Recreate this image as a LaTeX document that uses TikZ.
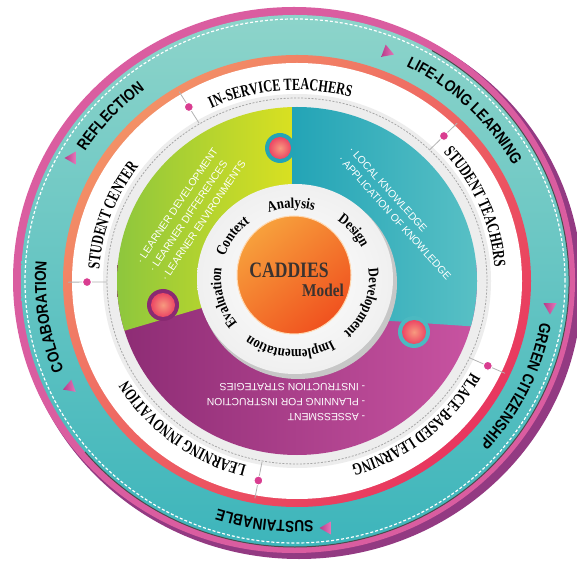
\documentclass[tikz,border=0pt]{standalone}
\usepackage{fontspec}
\usepackage{graphicx}
\setmainfont{Liberation Serif}
\newfontfamily\ringfont[FakeStretch=0.85]{Liberation Sans}
\newfontfamily\bandfont[FakeStretch=0.72]{Liberation Serif}
\newfontfamily\wordfont[FakeStretch=0.85]{Liberation Serif}
\newfontfamily\listfont{Liberation Sans}
\usetikzlibrary{decorations.text,shapes.geometric}

\definecolor{ringpink}{HTML}{DA5DA0}
\definecolor{ringplum}{HTML}{933A82}
\definecolor{tealhi}{HTML}{8DD4CA}
\definecolor{teallo}{HTML}{3DB5BB}
\definecolor{bandorange}{HTML}{F39066}
\definecolor{bandred}{HTML}{E8365F}
\definecolor{leafgreen}{HTML}{86C440}
\definecolor{leafyellow}{HTML}{D9E021}
\definecolor{seateal}{HTML}{23A4B6}
\definecolor{seateallight}{HTML}{5CC2C6}
\definecolor{plumdark}{HTML}{8A2A72}
\definecolor{plumlight}{HTML}{CB55A3}
\definecolor{ballred}{HTML}{EC4664}
\definecolor{ballpeach}{HTML}{F79A7E}
\definecolor{dotpink}{HTML}{D93D90}
\definecolor{coreorange}{HTML}{F7A03C}
\definecolor{corered}{HTML}{F0521F}
\definecolor{markerplum}{HTML}{B83A8A}
\definecolor{markerpink}{HTML}{E577B8}
\definecolor{coretext}{HTML}{3A3330}

\tikzset{
	ring text/.style={decorate, decoration={text along path, text align=center, text={#1}}},
	knob/.style={circle, inner sep=0pt, minimum size=22pt, inner color=ballpeach, outer color=ballred},
	marker/.style={regular polygon, regular polygon sides=3, inner sep=0pt, minimum size=15pt, left color=markerplum, right color=markerpink},
	pin/.style={circle, inner sep=0pt, minimum size=9pt, fill=dotpink, draw=white, line width=1pt},
	spoke/.style={draw=gray!60, line width=0.8pt},
	bullets/.style={align=left, inner sep=0pt, text=white, font=\listfont\fontsize{10.4}{15}\selectfont},
}

\begin{document}
\begin{tikzpicture}[x=1pt, y=1pt]
	\useasboundingbox (0,0) rectangle (577,562);
	\fill [white] (0,0) rectangle (577,562);
	\coordinate (hub) at (297,281);
	\coordinate (rim) at (295,281);
	\coordinate (core) at (295,283);

	% outer rim and teal band
	\fill [ringplum] (299,277) ellipse [x radius=283pt, y radius=274pt];
	\fill [ringpink] (294,282) ellipse [x radius=281pt, y radius=273pt];
	\shade [top color=tealhi, bottom color=teallo] (rim) ellipse [x radius=274pt, y radius=266pt];
	\draw [black!70, line width=1pt] (rim) ++(60:274pt and 266pt) arc [start angle=60, end angle=-140, x radius=274pt, y radius=266pt];
	\draw [white, line width=1.2pt, dash pattern=on 3pt off 2pt] (rim) ellipse [x radius=270pt, y radius=262pt];

	% orange band and white band
	\shade [top color=bandorange, bottom color=bandred, shading angle=45] (hub) ellipse [x radius=234pt, y radius=226pt];
	\fill [white] (hub) ellipse [x radius=225pt, y radius=218pt];
	\fill [black!7] (hub) ellipse [x radius=194pt, y radius=187pt];
	\draw [gray!70, line width=0.8pt, dash pattern=on 2pt off 1.5pt] (hub) ellipse [x radius=190pt, y radius=183pt];

	\foreach \a/\n in {121/inservice, 45.6/student, -24.7/place, -100.6/innovation, 180.3/center} {
		\draw [spoke] ([shift={(\a:190pt and 184pt)}]hub) -- ([shift={(\a:229pt and 221pt)}]hub);
		\node [pin] (pin-\n) at ([shift={(\a:210pt and 203pt)}]hub) {};
	}

	% puzzle pieces
	\begin{scope}
		\clip (hub) ellipse [x radius=180pt, y radius=174pt];
		\shade [left color=plumdark, right color=plumlight] (100,80) rectangle (490,300);
		\shade [left color=leafgreen, right color=leafyellow] (292,470) -- (100,470) -- (100,224.1) -- (201.3,253.9) -- (292,282) -- cycle;
		\shade [left color=seateal, right color=seateallight] (292,470) -- (490,470) -- (490,234.4) -- (385.7,241.4) -- (292,282) -- cycle;
	\end{scope}
	\fill [seateal] (280,414) circle (15pt);
	\fill [plumdark] (163,257) circle (16pt);
	\fill [seateallight!70!seateal] (414,230) circle (16pt);
	\node [knob, minimum size=22pt] (knob-top) at (280,414) {};
	\node [knob, minimum size=24pt] (knob-left) at (163,257) {};
	\node [knob, minimum size=24pt] (knob-right) at (414,230) {};

	% white ring and core
	\fill [black!22] (298,279) ellipse [x radius=99pt, y radius=96pt];
	\shade [inner color=white, outer color=black!6] (core) ellipse [x radius=98pt, y radius=95pt];
	\shadedraw [top color=coreorange, bottom color=corered, shading angle=40, draw=orange!30, line width=1pt] (294,287) ellipse [x radius=57pt, y radius=59pt];

	\node [text=coretext, font=\bfseries\fontsize{22}{22}\selectfont] (caddies) at (289,292) {\scalebox{0.8}[1]{CADDIES}};
	\node [text=coretext, font=\bfseries\fontsize{18}{18}\selectfont] (model) at (323,272) {\scalebox{0.85}[1]{Model}};

	% words round the core
	\path [ring text={|\wordfont\bfseries\fontsize{15}{15}\selectfont|Analysis}] (core) ++(138:74pt and 71pt) arc [start angle=138, end angle=48, x radius=74pt, y radius=71pt];
	\path [ring text={|\wordfont\bfseries\fontsize{15}{15}\selectfont|Design}] (core) ++(85:74pt and 71pt) arc [start angle=85, end angle=-5, x radius=74pt, y radius=71pt];
	\path [ring text={|\wordfont\bfseries\fontsize{15}{15}\selectfont|Development}] (core) ++(25:74pt and 71pt) arc [start angle=25, end angle=-65, x radius=74pt, y radius=71pt];
	\path [ring text={|\wordfont\bfseries\fontsize{15}{15}\selectfont|Implementation}] (core) ++(-49:74pt and 71pt) arc [start angle=-49, end angle=-139, x radius=74pt, y radius=71pt];
	\path [ring text={|\wordfont\bfseries\fontsize{15}{15}\selectfont|Evaluation}] (core) ++(240:74pt and 71pt) arc [start angle=240, end angle=150, x radius=74pt, y radius=71pt];
	\path [ring text={|\wordfont\bfseries\fontsize{15}{15}\selectfont|Context}] (core) ++(190:74pt and 71pt) arc [start angle=190, end angle=100, x radius=74pt, y radius=71pt];

	% lists on the pieces
	\node [bullets, rotate=56] (learner) at (191,350) {· LEARNER DEVELOPMENT\\· LEARNER DIFFERENCES\\· LEARNER ENVIRONMENTS};
	\node [bullets, rotate=-48, font=\listfont\fontsize{10.4}{14}\selectfont] (knowledge) at (400,349) {· LOCAL KNOWLEDGE\\· APPLICATION OF KNOWLEDGE};
	\node [bullets, rotate=180] (instruction) at (286,160) {- ASSESSMENT\\- PLANNING FOR INSTRUCTION\\- INSTRUCTION STRATEGIES};

	% white band labels
	\path [ring text={|\bandfont\bfseries\fontsize{17}{17}\selectfont|IN-SERVICE TEACHERS}] (hub) ++(135:198pt and 191pt) arc [start angle=135, end angle=55, x radius=198pt, y radius=191pt];
	\path [ring text={|\bandfont\bfseries\fontsize{17}{17}\selectfont|STUDENT TEACHERS}] (hub) ++(63:198pt and 191pt) arc [start angle=63, end angle=-17, x radius=198pt, y radius=191pt];
	\path [ring text={|\bandfont\bfseries\fontsize{17}{17}\selectfont|PLACE-BASED LEARNING}] (hub) ++(-11:198pt and 191pt) arc [start angle=-11, end angle=-91, x radius=198pt, y radius=191pt];
	\path [ring text={|\bandfont\bfseries\fontsize{17}{17}\selectfont|LEARNING INNOVATION}] (hub) ++(-87:198pt and 191pt) arc [start angle=-87, end angle=-167, x radius=198pt, y radius=191pt];
	\path [ring text={|\bandfont\bfseries\fontsize{17}{17}\selectfont|STUDENT CENTER}] (hub) ++(200:198pt and 191pt) arc [start angle=200, end angle=120, x radius=198pt, y radius=191pt];

	% teal band labels
	\path [ring text={|\ringfont\bfseries\fontsize{16}{16}\selectfont|REFLECTION}] (rim) ++(167.5:249pt and 240pt) arc [start angle=167.5, end angle=107.5, x radius=249pt, y radius=240pt];
	\path [ring text={|\ringfont\bfseries\fontsize{16}{16}\selectfont|LIFE-LONG LEARNING}] (rim) ++(76:249pt and 240pt) arc [start angle=76, end angle=16, x radius=249pt, y radius=240pt];
	\path [ring text={|\ringfont\bfseries\fontsize{16}{16}\selectfont|GREEN CITIZENSHIP}] (rim) ++(4:249pt and 240pt) arc [start angle=4, end angle=-56, x radius=249pt, y radius=240pt];
	\path [ring text={|\ringfont\bfseries\fontsize{16}{16}\selectfont|SUSTAINABLE}] (rim) ++(-67:249pt and 240pt) arc [start angle=-67, end angle=-127, x radius=249pt, y radius=240pt];
	\path [ring text={|\ringfont\bfseries\fontsize{16}{16}\selectfont|COLABORATION}] (rim) ++(218.5:249pt and 240pt) arc [start angle=218.5, end angle=158.5, x radius=249pt, y radius=240pt];

	\node [marker, rotate=90] (mark-reflection) at (72,404) {};
	\node [marker, rotate=-110] (mark-lifelong) at (387,510) {};
	\node [marker, rotate=180] (mark-green) at (550,255) {};
	\node [marker, rotate=90] (mark-sustainable) at (327,34) {};
	\node [marker, rotate=110] (mark-colaboration) at (70,175) {};
\end{tikzpicture}
\end{document}
